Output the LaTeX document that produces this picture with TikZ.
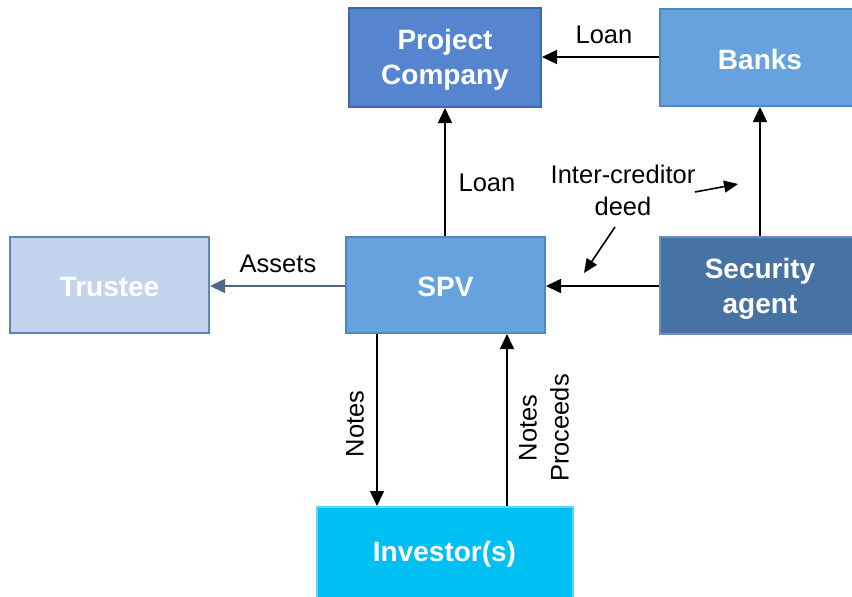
\documentclass[tikz,border=0pt]{standalone}
\usepackage{fontspec}
\setmainfont{Liberation Sans}
\usetikzlibrary{arrows.meta}
\definecolor{pcfill}{HTML}{5585CE}
\definecolor{pcdraw}{HTML}{3F6AA8}
\definecolor{bkfill}{HTML}{66A3DE}
\definecolor{bkdraw}{HTML}{5088BE}
\definecolor{trfill}{HTML}{C2D4EC}
\definecolor{trdraw}{HTML}{5B87B0}
\definecolor{safill}{HTML}{4673A3}
\definecolor{sadraw}{HTML}{6A92BC}
\definecolor{infill}{HTML}{00BFF3}
\definecolor{indraw}{HTML}{5DD3F5}
\definecolor{asline}{HTML}{4F6784}
\tikzset{
  box/.style={rectangle, line width=2pt, inner sep=0pt},
  boxtext/.style={text=white, align=center,
    font=\fontsize{28}{35}\selectfont\bfseries, inner sep=0pt},
  lbl/.style={font=\fontsize{25.5}{32}\selectfont, align=center, inner sep=0pt},
  arr/.style={line width=1.6pt, -{Triangle[length=15pt,width=14pt]}},
}
\begin{document}
\begin{tikzpicture}[x=1pt,y=-1pt]
\useasboundingbox (0,0) rectangle (852,597);
\clip (0,0) rectangle (852,597);
% boxes
\node[box, fill=pcfill, draw=pcdraw, minimum width=192pt, minimum height=99pt] (pc) at (445,57.5) {};
\node[boxtext] (pct) at (445,60) {Project\\Company};
\node[box, fill=bkfill, draw=bkdraw, minimum width=200pt, minimum height=97pt] (bk) at (760,57.5) {};
\node[boxtext] (bkt) at (760,59) {Banks};
\node[box, fill=trfill, draw=trdraw, minimum width=199pt, minimum height=96pt] (tr) at (109.5,285) {};
\node[boxtext] (trt) at (109.5,287) {Trustee};
\node[box, fill=bkfill, draw=bkdraw, minimum width=199pt, minimum height=96pt] (spv) at (445.5,285) {};
\node[boxtext] (spvt) at (445.5,287) {SPV};
\node[box, fill=safill, draw=sadraw, minimum width=200pt, minimum height=97pt] (sa) at (760,285.5) {};
\node[boxtext] (sat) at (760,289) {Security\\agent};
\node[box, fill=infill, draw=indraw, minimum width=256pt, minimum height=96pt] (inv) at (444.5,555) {};
\node[boxtext] (invt) at (444.5,554) {Investor(s)};
% connectors
\draw[arr] (bk.west |- 0,57) -- (pc.east |- 0,57);
\draw[arr] (spv.north -| 445,0) -- (pc.south -| 445,0);
\draw[arr] (sa.north -| 760,0) -- (bk.south -| 760,0);
\draw[arr] (sa.west |- 0,286) -- (spv.east |- 0,286);
\draw[arr, draw=asline, fill=asline] (spv.west |- 0,286) -- (tr.east |- 0,286);
\draw[arr] (spv.south -| 377,0) -- (inv.north -| 377,0);
\draw[arr] (inv.north -| 507,0) -- (spv.south -| 507,0);
% labels
\node[lbl] (l1) at (604,35) {Loan};
\node[lbl] (l2) at (487,183) {Loan};
\node[lbl] (l3) at (278,264) {Assets};
\node[lbl, rotate=90] (l4) at (355,424) {Notes};
\node[lbl, rotate=90] (l5) at (544,428) {Notes\\Proceeds};
\node[lbl] (icd) at (623,190) {Inter-creditor\\deed};
\coordinate (a1s) at (695,192);
\coordinate (a1e) at (738,184);
\coordinate (a2s) at (615,227);
\coordinate (a2e) at (584,273);
\draw[line width=1.6pt, -{Triangle[length=14pt,width=12pt]}] (a1s) -- (a1e);
\draw[line width=1.6pt, -{Triangle[length=14pt,width=12pt]}] (a2s) -- (a2e);
\end{tikzpicture}
\end{document}
